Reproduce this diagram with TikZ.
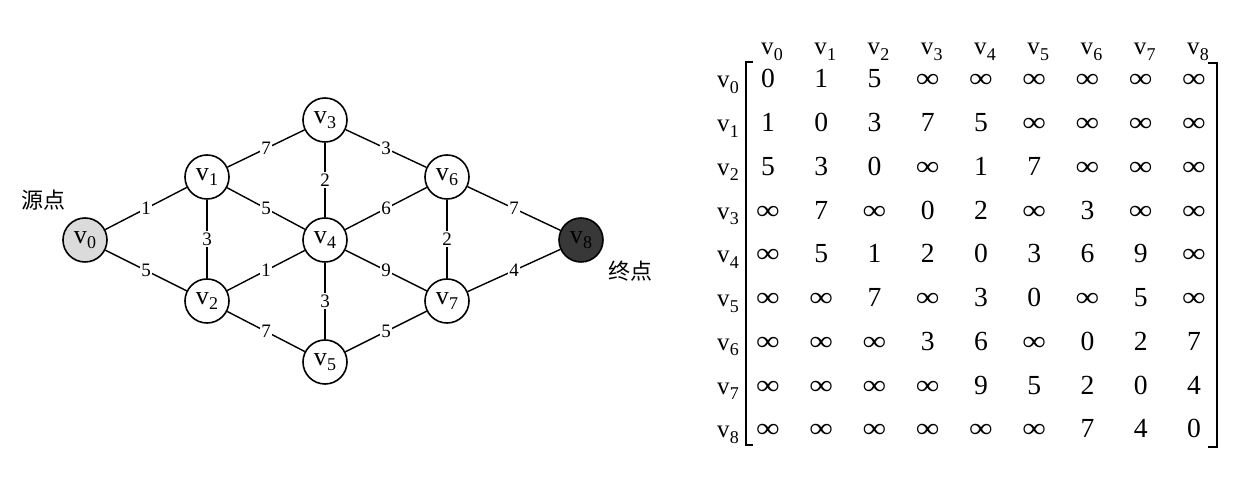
\documentclass[tikz,border=0pt]{standalone}
\usepackage{fontspec}
\usepackage{graphicx}
\setmainfont{Liberation Serif}
\newfontfamily\cjk{Noto Sans CJK SC}
\newcommand\vlab[1]{v\kern0.2pt\raisebox{-0.22em}{\fontsize{9}{9}\selectfont #1}}
\newcommand\inft{\scalebox{1.2}[1]{\char"221E}}
\newcommand\matent[1]{\if I#1\inft\else#1\fi}
\begin{document}
\begin{tikzpicture}[x=0.5pt,y=-0.5pt,
  vert/.style={circle,draw,line width=0.8pt,minimum size=22pt,inner sep=0pt,fill=white,font=\fontsize{13}{13}\selectfont},
  edge/.style={line width=0.7pt},
  wt/.style={fill=white,inner sep=0.8pt,font=\fontsize{9.5}{9.5}\selectfont},
  ent/.style={font=\fontsize{13.8}{13.8}\selectfont,inner sep=0pt,anchor=base},
  hdr/.style={font=\fontsize{12.5}{12.5}\selectfont,inner sep=0pt,anchor=base},
  lbl/.style={font=\cjk\fontsize{11}{11}\selectfont,inner sep=0pt},
  brk/.style={line width=0.8pt}]
\useasboundingbox (0,0) rectangle (1260,480);

% graph
\node[vert,fill=black!14] (v0) at (85,240) {\vlab{0}};
\node[vert] (v1) at (207,177) {\vlab{1}};
\node[vert] (v2) at (207,301) {\vlab{2}};
\node[vert] (v3) at (325,120) {\vlab{3}};
\node[vert] (v4) at (325,240) {\vlab{4}};
\node[vert] (v5) at (325,362) {\vlab{5}};
\node[vert] (v6) at (447,177) {\vlab{6}};
\node[vert] (v7) at (447,301) {\vlab{7}};
\node[vert,fill=black!78,text=black] (v8) at (581,240) {\vlab{8}};

\draw[edge] (v0) -- node[wt]{1} (v1);
\draw[edge] (v0) -- node[wt]{5} (v2);
\draw[edge] (v1) -- node[wt]{3} (v2);
\draw[edge] (v1) -- node[wt]{7} (v3);
\draw[edge] (v1) -- node[wt]{5} (v4);
\draw[edge] (v2) -- node[wt]{1} (v4);
\draw[edge] (v2) -- node[wt]{7} (v5);
\draw[edge] (v3) -- node[wt]{2} (v4);
\draw[edge] (v4) -- node[wt]{3} (v5);
\draw[edge] (v3) -- node[wt]{3} (v6);
\draw[edge] (v4) -- node[wt]{6} (v6);
\draw[edge] (v4) -- node[wt]{9} (v7);
\draw[edge] (v5) -- node[wt]{5} (v7);
\draw[edge] (v6) -- node[wt]{2} (v7);
\draw[edge] (v6) -- node[wt]{7} (v8);
\draw[edge] (v7) -- node[wt]{4} (v8);

\node[lbl] (src) at (43,200) {源点};
\node[lbl] (dst) at (630,271) {终点};

% matrix headers
\foreach \c in {0,...,8} {
  \node[hdr] (h\c) at ({772+53.25*\c},55) {\vlab{\c}};
  \node[hdr] (r\c) at (728,{88+43.75*\c}) {\vlab{\c}};
}
% matrix entries
\foreach \row [count=\r from 0] in {
  {0,1,5,I,I,I,I,I,I},
  {1,0,3,7,5,I,I,I,I},
  {5,3,0,I,1,7,I,I,I},
  {I,7,I,0,2,I,3,I,I},
  {I,5,1,2,0,3,6,9,I},
  {I,I,7,I,3,0,I,5,I},
  {I,I,I,3,6,I,0,2,7},
  {I,I,I,I,9,5,2,0,4},
  {I,I,I,I,I,I,7,4,0}} {
  \foreach \e [count=\c from 0] in \row {
    \node[ent] (m\r\c) at ({768+53.25*\c},{88+43.75*\r}) {\matent{\e}};
  }
}
% brackets
\coordinate (lt) at (753,62);
\coordinate (lb) at (753,445);
\coordinate (rt) at (1208,63);
\coordinate (rb) at (1208,447);
\draw[brk] (lt) -- ++(-7,0) |- (lb);
\draw[brk] (rt) -- ++(9,0) |- (rb);
\end{tikzpicture}
\end{document}
